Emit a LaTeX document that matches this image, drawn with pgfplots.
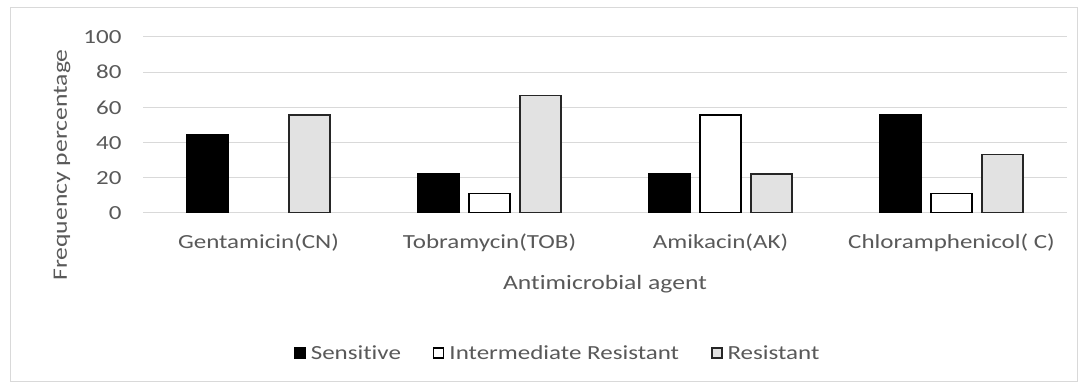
\documentclass[border=0pt]{standalone}
\usepackage{pgfplots}
\pgfplotsset{compat=1.18}
\usepackage{fontspec}
\setmainfont[FakeStretch=1.25, Ligatures={NoCommon}]{Carlito}
\definecolor{txt}{HTML}{595959}
\definecolor{gridc}{HTML}{D9D9D9}
\definecolor{resc}{HTML}{E2E2E2}
\definecolor{framec}{HTML}{D9D9D9}
\begin{document}
\begin{tikzpicture}[x=1pt,y=1pt]
\useasboundingbox (0,0) rectangle (1086,390);
\draw[framec, line width=1pt] (10,8) rectangle (1077,382);
\begin{axis}[
  at={(143pt,177pt)}, anchor=south west,
  scale only axis, width=924pt, height=176pt,
  ybar=10pt, bar width=41pt,
  xmin=-0.5, xmax=3.5, ymin=0, ymax=100,
  ytick={0,20,...,100},
  xtick={0,1,2,3},
  xticklabels={Gentamicin(CN),Tobramycin(TOB),Amikacin(AK),Chloramphenicol( C)},
  axis line style={draw=none},
  major tick length=0pt,
  ymajorgrids, grid style={draw=gridc, line width=1pt},
  /pgf/number format/assume math mode=true,
  tick label style={font=\fontsize{20}{24}\selectfont, text=txt},
  yticklabel style={xshift=-18pt},
  xticklabel style={yshift=-17pt},
  label style={font=\fontsize{20.5}{24}\selectfont, text=txt},
  xlabel={Antimicrobial agent},
  xlabel style={at={(rel axis cs:0.5,0)}, anchor=center, yshift=-71pt},
  ylabel={Frequency percentage},
  ylabel style={at={(rel axis cs:0,0.5)}, anchor=center, yshift=81pt, xshift=-40pt},
  legend style={at={(0.449,0)}, anchor=center, yshift=-140pt, draw=none,
    font=\fontsize{20}{24}\selectfont, text=txt,
    /tikz/every odd column/.append style={column sep=3pt},
    /tikz/every even column/.append style={column sep=30pt}},
  legend columns=3,
  legend image code/.code={\draw[#1, line width=1.5pt] (0pt,-5pt) rectangle (10pt,5pt);},
]
\addplot[fill=black, draw=black, line width=1.5pt] coordinates {(0,44.4) (1,22.2) (2,22.2) (3,55.6)};
\addplot[fill=white, draw=black, line width=1.5pt] coordinates {(1,11.1) (2,55.6) (3,11.1)};
\addplot[fill=resc, draw=black!85, line width=1.5pt] coordinates {(0,55.6) (1,66.7) (2,22.2) (3,33.3)};
\legend{Sensitive, Intermediate Resistant, Resistant}
\end{axis}
\end{tikzpicture}
\end{document}
